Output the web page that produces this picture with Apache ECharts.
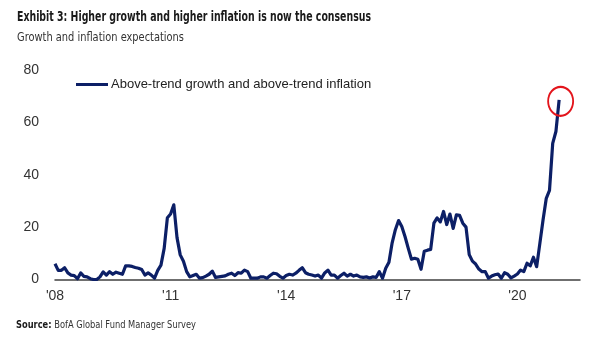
<!DOCTYPE html>
<html>
<head>
<meta charset="utf-8">
<script src="https://cdn.jsdelivr.net/npm/echarts@6/dist/echarts.min.js"></script>
<style>
  html, body { margin: 0; padding: 0; background: #ffffff; }
  #chart { width: 605px; height: 341px; }
</style>
</head>
<body>
<div id="chart"></div>
<script>
// Share of FMS respondents expecting above-trend growth and above-trend inflation (%),
// monthly from Jan 2008.
const startYear = 2008;
const seriesName = 'Above-trend growth and above-trend inflation';
const values = [
  // 2008
  6, 3.5, 3.5, 4.5, 2.5, 1.7, 1.5, 0.3, 2.5, 1.2, 1, 0.3,
  // 2009
  0, 0, 1, 2.9, 1.7, 3, 2, 2.8, 2.4, 2, 5.2, 5.2,
  // 2010
  5, 4.6, 4.3, 3.8, 1.7, 2.5, 1.7, 0.5, 3.5, 5.5, 11.9, 23.6,
  // 2011
  25, 28.5, 16, 9.4, 7, 3, 1, 1.5, 2, 0.5, 0.7, 1.3,
  // 2012
  2, 3.2, 0.8, 1, 1.2, 1.4, 2, 2.4, 1.5, 2.6, 2.4, 3.6,
  // 2013
  3, 0.5, 0.5, 0.5, 1, 1, 0.5, 1.5, 2.4, 2.2, 1.2, 0.5,
  // 2014
  1.5, 2, 1.7, 2.4, 3.5, 4.5, 2.6, 2, 1.7, 1.3, 1.7, 0.5,
  // 2015
  2.5, 3.6, 1.7, 1.7, 0.5, 1.5, 2.4, 1.3, 2, 1.3, 1.7, 1,
  // 2016
  0.8, 1, 0.6, 1, 0.8, 3, 0.5, 4.3, 6.6, 14, 19, 22.5,
  // 2017
  20.2, 16.4, 12, 7.8, 8.1, 7.7, 3.9, 10.8, 11.2, 11.5, 21.5, 23.5,
  // 2018
  22, 26, 21, 25, 19.5, 24.7, 24.5, 21.5, 20, 9.5, 7, 5.9,
  // 2019
  4, 3, 3, 0.5, 1.3, 1.8, 2.1, 0.5, 2.6, 2, 0.6, 1.3,
  // 2020
  2.1, 3.6, 3, 6.2, 5.2, 8.5, 4.9, 13.8, 22.8, 31, 34, 52,
  // 2021
  56.5, 68.6
];
const xTickLabels = ["'08", "'11", "'14", "'17", "'20"];
const yTicks = [0, 20, 40, 60, 80];

const titleText = 'Exhibit 3: Higher growth and higher inflation is now the consensus';
const subtitleText = 'Growth and inflation expectations';
const sourceBold = 'Source:';
const sourceRest = ' BofA Global Fund Manager Survey';

// points as [months since Jan 2008, value]
const points = values.map((v, i) => [i, v]);
const lastPoint = points[points.length - 1];

const COND = '"DejaVu Sans Condensed", "Liberation Sans", sans-serif';
const SANS = '"Liberation Sans", Arial, sans-serif';

// horizontal squeeze so the condensed headings keep their set widths
const measureCtx = document.createElement('canvas').getContext('2d');
function squeeze(parts, target) {
  let w = 0;
  parts.forEach(p => { measureCtx.font = p.font; w += measureCtx.measureText(p.text).width; });
  return target / w;
}

const titleFont = 'bold 14px ' + COND;
const subFont = '13px ' + COND;
const srcBoldFont = 'bold 11px ' + COND;
const srcFont = '11px ' + COND;

const titleScale = squeeze([{ text: titleText, font: titleFont }], 354);
const subScale = squeeze([{ text: subtitleText, font: subFont }], 167);
const srcScale = squeeze([{ text: sourceBold, font: srcBoldFont }, { text: sourceRest, font: srcFont }], 180);

const chart = echarts.init(document.getElementById('chart'), null, { renderer: 'canvas' });

chart.setOption({
  animation: false,
  backgroundColor: '#ffffff',
  grid: { left: 55, right: 25, top: 70, bottom: 61.5, containLabel: false },
  legend: {
    left: 76, top: 78, padding: 0,
    icon: 'rect',
    itemWidth: 32, itemHeight: 3, itemGap: 10,
    textStyle: { fontFamily: SANS, fontSize: 13, color: '#222222', padding: [0, 0, 0, -2] },
    data: [seriesName]
  },
  xAxis: {
    type: 'value',
    min: 0, max: 163.5, interval: 36,
    splitLine: { show: false },
    axisTick: { show: false },
    axisLine: { show: true, lineStyle: { color: '#404040', width: 1.5 } },
    axisLabel: {
      margin: 10,
      fontFamily: SANS, fontSize: 14, color: '#333333',
      showMaxLabel: false,
      formatter: v => {
        const k = v / 36;
        return Number.isInteger(k) && k < xTickLabels.length ? xTickLabels[k] : '';
      }
    }
  },
  yAxis: {
    type: 'value',
    min: yTicks[0], max: yTicks[yTicks.length - 1], interval: 20,
    splitLine: { show: false },
    axisTick: { show: false },
    axisLine: { show: false },
    axisLabel: { margin: 16, fontFamily: SANS, fontSize: 14, color: '#333333' }
  },
  series: [{
    name: seriesName,
    type: 'line',
    data: points,
    showSymbol: false,
    symbol: 'none',
    lineStyle: { color: '#0c1f66', width: 3.2, join: 'round' },
    itemStyle: { color: '#0c1f66' },
    markPoint: {
      silent: true,
      symbol: 'circle',
      symbolSize: [25, 29],
      symbolOffset: [1.5, 1.5],
      label: { show: false },
      itemStyle: { color: 'rgba(0,0,0,0)', borderColor: '#e3151c', borderWidth: 2 },
      data: [{ coord: lastPoint }]
    }
  }],
  graphic: [
    {
      type: 'text', x: 17, y: 17.5, scaleX: titleScale,
      style: { text: titleText, font: titleFont, fill: '#1a1a1a', verticalAlign: 'middle' }
    },
    {
      type: 'text', x: 17, y: 38, scaleX: subScale,
      style: { text: subtitleText, font: subFont, fill: '#333333', verticalAlign: 'middle' }
    },
    {
      type: 'text', x: 16, y: 325, scaleX: srcScale,
      style: {
        text: '{b|' + sourceBold + '}{r|' + sourceRest + '}',
        verticalAlign: 'middle',
        rich: {
          b: { font: srcBoldFont, fill: '#1a1a1a' },
          r: { font: srcFont, fill: '#333333' }
        }
      }
    }
  ]
});
</script>
</body>
</html>
